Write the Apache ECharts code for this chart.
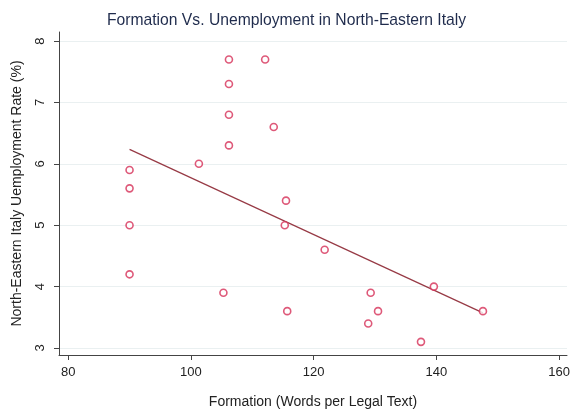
<!DOCTYPE html>
<html>
<head>
<meta charset="utf-8">
<script src="https://cdn.jsdelivr.net/npm/echarts@6/dist/echarts.min.js"></script>
<style>
  html, body { margin: 0; padding: 0; background: #fff; }
  #chart { width: 573px; height: 414px; }
</style>
</head>
<body>
<div id="chart"></div>
<script>
// Formation (words per legal text) for each observation
const formation = [90, 90, 90, 90, 101.3, 105.3, 106.2, 106.2, 106.2, 106.2, 112.1,
  113.5, 115.5, 115.3, 115.7, 121.8, 129.3, 130.5, 128.9, 137.5, 139.6, 147.6];
// Unemployment rate (%) for each observation
const unemployment = [5.9, 5.6, 5.0, 4.2, 6.0, 3.9, 7.7, 7.3, 6.8, 6.3, 7.7,
  6.6, 5.4, 5.0, 3.6, 4.6, 3.9, 3.6, 3.4, 3.1, 4.0, 3.6];

const xTicks = [80, 100, 120, 140, 160];
const yTicks = [3, 4, 5, 6, 7, 8];

const titleText = 'Formation Vs. Unemployment in North-Eastern Italy';
const xName = 'Formation (Words per Legal Text)';
const yName = 'North-Eastern Italy Uemployment Rate (%)';

// Least-squares fit over the observed range
function linearFit(xs, ys) {
  const n = xs.length;
  const mx = xs.reduce((a, b) => a + b, 0) / n;
  const my = ys.reduce((a, b) => a + b, 0) / n;
  let sxy = 0, sxx = 0;
  for (let i = 0; i < n; i++) {
    sxy += (xs[i] - mx) * (ys[i] - my);
    sxx += (xs[i] - mx) * (xs[i] - mx);
  }
  const b = sxy / sxx;
  const a = my - b * mx;
  const x0 = Math.min(...xs), x1 = Math.max(...xs);
  return [[x0, a + b * x0], [x1, a + b * x1]];
}

const points = formation.map((x, i) => [x, unemployment[i]]);
const fitLine = linearFit(formation, unemployment);

const font = '"Liberation Sans", Arial, Helvetica, sans-serif';
const chart = echarts.init(document.getElementById('chart'));
chart.setOption({
  animation: false,
  backgroundColor: '#ffffff',
  title: {
    text: titleText,
    left: 'center',
    top: 8,
    textStyle: { fontFamily: font, fontSize: 15.7, fontWeight: 'normal', color: '#1f2b4c' }
  },
  grid: { left: 59, right: 6, top: 32, bottom: 59 },
  xAxis: {
    type: 'value',
    min: 78.5,
    max: 161.3,
    name: xName,
    nameLocation: 'middle',
    nameGap: 40,
    nameTextStyle: { fontFamily: font, fontSize: 14, color: '#222' },
    axisLine: { show: true, lineStyle: { color: '#444', width: 1 } },
    axisTick: { show: true, length: 5, customValues: xTicks, lineStyle: { color: '#444' } },
    axisLabel: { customValues: xTicks, fontFamily: font, fontSize: 13, color: '#222', margin: 11 },
    splitLine: { show: false }
  },
  yAxis: {
    type: 'value',
    min: 2.886,
    max: 8.147,
    name: yName,
    nameLocation: 'middle',
    nameGap: 35,
    nameTextStyle: { fontFamily: font, fontSize: 14, color: '#222' },
    axisLine: { show: true, lineStyle: { color: '#444', width: 1 } },
    axisTick: { show: true, length: 5, customValues: yTicks, lineStyle: { color: '#444' } },
    axisLabel: { customValues: yTicks, rotate: 90, fontFamily: font, fontSize: 13, color: '#222', margin: 12 },
    splitLine: { show: true, lineStyle: { color: '#eaf0f1', width: 1 } }
  },
  series: [
    {
      type: 'line',
      data: fitLine,
      symbol: 'none',
      lineStyle: { color: '#973a45', width: 1.2 },
      z: 2
    },
    {
      type: 'scatter',
      data: points,
      symbol: 'circle',
      symbolSize: 7,
      itemStyle: { color: '#ffffff', borderColor: '#d62f58', borderWidth: 1.6 },
      z: 3
    }
  ]
});
</script>
</body>
</html>
